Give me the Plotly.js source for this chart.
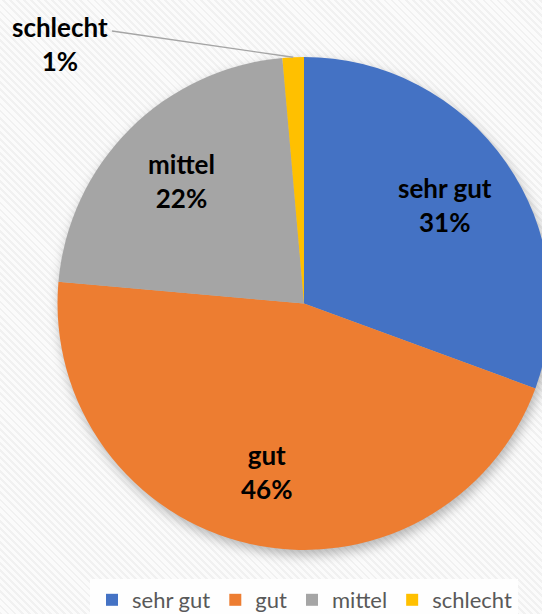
<!DOCTYPE html>
<html>
<head>
<meta charset="utf-8">
<script src="https://cdn.plot.ly/plotly-3.0.1.min.js"></script>
<style>
  html, body { margin: 0; padding: 0; width: 542px; height: 614px; overflow: hidden; }
  body {
    background-color: #f6f6f6;
    background-image: repeating-linear-gradient(45deg, #f1f1f1 0px, #f1f1f1 2px, #fbfbfb 2px, #fbfbfb 5px);
  }
  #chart { width: 560px; height: 614px; }
  .pielayer { filter: drop-shadow(2px 5px 6px rgba(0,0,0,0.28)); }
</style>
</head>
<body>
<div id="chart"></div>
<script>
// Data
const categories = ['sehr gut', 'gut', 'mittel', 'schlecht'];
const shares = [30.6, 45.8, 22.2, 1.4];
const colors = ['#4472C4', '#ED7D31', '#A5A5A5', '#FFC000'];

const W = 560, H = 614;
const pieDomain = { x: [57.5 / W, 550.5 / W], y: [1 - 550 / H, 1 - 57 / H] };

// pie geometry (pixels) derived from the domain
const total = shares.reduce((a, b) => a + b, 0);
const cx = (pieDomain.x[0] + pieDomain.x[1]) / 2 * W;
const cy = (1 - (pieDomain.y[0] + pieDomain.y[1]) / 2) * H;
const r = (pieDomain.x[1] - pieDomain.x[0]) * W / 2;

// mid-angle of every slice (clockwise from 12 o'clock), from the data
const midAngles = [];
let acc = 0;
shares.forEach(v => { midAngles.push((acc + v / 2) / total * 2 * Math.PI); acc += v; });
const pct = shares.map(v => Math.round(v / total * 100) + '%');

const labelFont = { family: 'Lato, sans-serif', size: 26, color: '#000000', weight: 'bold' };
const annotations = [];
for (let i = 0; i < 3; i++) {
  const lx = cx + 0.70 * r * Math.sin(midAngles[i]);
  const ly = cy - 0.70 * r * Math.cos(midAngles[i]);
  annotations.push({ xref: 'paper', yref: 'paper', x: lx / W, y: 1 - ly / H,
    xanchor: 'center', yanchor: 'middle', showarrow: false,
    text: categories[i] + '<br>' + pct[i], font: labelFont });
}
// outside label for the tiny slice, with a leader line to its outer arc
const px = cx + r * Math.sin(midAngles[3]);
const py = cy - r * Math.cos(midAngles[3]);
annotations.push({ xref: 'paper', yref: 'paper', x: 60 / W, y: 1 - 44 / H,
  xanchor: 'center', yanchor: 'middle', showarrow: false,
  text: categories[3] + '<br>' + pct[3], font: labelFont });

const trace = {
  type: 'pie',
  labels: categories,
  values: shares,
  sort: false,
  direction: 'clockwise',
  rotation: 0,
  marker: { colors: colors, line: { width: 0 } },
  domain: pieDomain,
  textposition: 'none',
  hoverinfo: 'skip',
  showlegend: true
};

const layout = {
  width: W,
  height: H,
  margin: { l: 0, r: 0, t: 0, b: 0, autoexpand: false },
  paper_bgcolor: 'rgba(0,0,0,0)',
  plot_bgcolor: 'rgba(0,0,0,0)',
  showlegend: true,
  legend: {
    orientation: 'h',
    x: 92 / W, xanchor: 'left',
    y: 1 - 600 / H, yanchor: 'middle',
    bgcolor: 'rgba(0,0,0,0)',
    font: { family: 'Lato, sans-serif', size: 22, color: '#595959' },
    traceorder: 'normal'
  },
  shapes: [
    { type: 'rect', xref: 'paper', yref: 'paper', x0: 90 / W, x1: 518 / W, y0: -0.01, y1: 1 - 579 / H,
      fillcolor: '#fefefe', line: { width: 0 }, layer: 'below' },
    { type: 'line', xref: 'paper', yref: 'paper', x0: 112 / W, y0: 1 - 31 / H, x1: px / W, y1: 1 - py / H,
      line: { color: '#A5A5A5', width: 1.3 } }
  ],
  annotations: annotations
};

Plotly.newPlot('chart', [trace], layout, { staticPlot: true, displayModeBar: false });
</script>
</body>
</html>
